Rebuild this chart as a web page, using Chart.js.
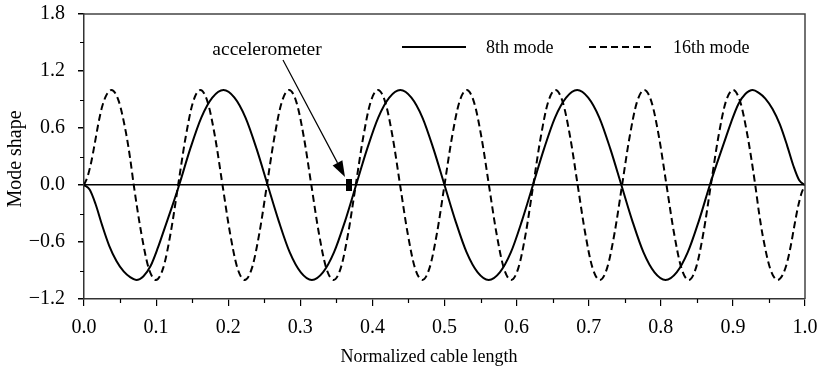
<!DOCTYPE html>
<html>
<head>
<meta charset="utf-8">
<script src="https://cdn.jsdelivr.net/npm/chart.js@4.4.1/dist/chart.umd.min.js"></script>
<style>
    html, body { margin: 0; padding: 0; background: #fff; }
    #wrap { width: 821px; height: 374px; }
</style>
</head>
<body>
<div id="wrap"><canvas id="chart" width="821" height="374"></canvas></div>

<script>
    // 8th mode: normalized position / mode amplitude
    const mode8X = [0, 0.008, 0.016, 0.025, 0.035, 0.045, 0.055, 0.064, 0.0725, 0.0825, 0.0925, 0.1025, 0.1125, 0.1225, 0.132,
        0.1473, 0.1627, 0.178, 0.1934, 0.2087, 0.224, 0.2394, 0.2547,
        0.2701, 0.2854, 0.3007, 0.3161, 0.3314, 0.3467, 0.3621, 0.3774,
        0.3927, 0.4081, 0.4234, 0.4387, 0.4541, 0.4694, 0.4847, 0.5,
        0.5153, 0.5307, 0.546, 0.5613, 0.5767, 0.592, 0.6073, 0.6227,
        0.638, 0.6533, 0.6687, 0.684, 0.6993, 0.7147, 0.73, 0.7453,
        0.7606, 0.776, 0.7913, 0.8066, 0.822, 0.8373, 0.8527, 0.868,
        0.8775, 0.8875, 0.8975, 0.9075, 0.9175, 0.9275, 0.936, 0.945, 0.955, 0.965, 0.975, 0.984, 0.992, 1];
    const mode8Y = [0, -0.05, -0.2, -0.42, -0.64, -0.8, -0.91, -0.97, -1, -0.96, -0.85, -0.66, -0.44, -0.22, 0,
        0.38, 0.71, 0.92, 1, 0.92, 0.71, 0.38, 0,
        -0.38, -0.71, -0.92, -1, -0.92, -0.71, -0.38, 0,
        0.38, 0.71, 0.92, 1, 0.92, 0.71, 0.38, 0,
        -0.38, -0.71, -0.92, -1, -0.92, -0.71, -0.38, 0,
        0.38, 0.71, 0.92, 1, 0.92, 0.71, 0.38, 0,
        -0.38, -0.71, -0.92, -1, -0.92, -0.71, -0.38, 0,
        0.22, 0.44, 0.66, 0.85, 0.96, 1, 0.97, 0.91, 0.8, 0.64, 0.42, 0.2, 0.05, 0];

    // 16th mode
    const mode16X = [0, 0.005, 0.01, 0.015, 0.02, 0.025, 0.03, 0.034, 0.038, 0.0483, 0.0587, 0.064, 0.069,
        0.0793, 0.0895, 0.0998, 0.11, 0.1203, 0.1306,
        0.1409, 0.1511, 0.1614, 0.1716, 0.1819, 0.1921,
        0.2024, 0.2126, 0.2229, 0.2331, 0.2434, 0.2537,
        0.264, 0.2742, 0.2845, 0.2947, 0.305, 0.3153,
        0.3256, 0.3358, 0.3461, 0.3563, 0.3666, 0.3769,
        0.3872, 0.3974, 0.4077, 0.4179, 0.4282, 0.4384,
        0.4487, 0.4589, 0.4692, 0.4794, 0.4897, 0.5,
        0.5103, 0.5205, 0.5308, 0.541, 0.5513, 0.5616,
        0.5719, 0.5821, 0.5924, 0.6026, 0.6129, 0.6231,
        0.6334, 0.6436, 0.6539, 0.6641, 0.6744, 0.6847,
        0.695, 0.7052, 0.7155, 0.7257, 0.736, 0.7463,
        0.7566, 0.7668, 0.7771, 0.7873, 0.7976, 0.8079,
        0.8182, 0.8284, 0.8387, 0.8489, 0.8592, 0.8694,
        0.8797, 0.8899, 0.9002, 0.9104, 0.9207, 0.931,
        0.936, 0.9413, 0.9517, 0.962, 0.966, 0.97, 0.975, 0.98, 0.985, 0.99, 0.995, 1];
    const mode16Y = [0, 0.09, 0.24, 0.44, 0.65, 0.82, 0.93, 0.98, 1, 0.88, 0.53, 0.28, 0,
        -0.5, -0.87, -1, -0.87, -0.5, 0,
        0.5, 0.87, 1, 0.87, 0.5, 0,
        -0.5, -0.87, -1, -0.87, -0.5, 0,
        0.5, 0.87, 1, 0.87, 0.5, 0,
        -0.5, -0.87, -1, -0.87, -0.5, 0,
        0.5, 0.87, 1, 0.87, 0.5, 0,
        -0.5, -0.87, -1, -0.87, -0.5, 0,
        0.5, 0.87, 1, 0.87, 0.5, 0,
        -0.5, -0.87, -1, -0.87, -0.5, 0,
        0.5, 0.87, 1, 0.87, 0.5, 0,
        -0.5, -0.87, -1, -0.87, -0.5, 0,
        0.5, 0.87, 1, 0.87, 0.5, 0,
        -0.5, -0.87, -1, -0.87, -0.5, 0,
        0.5, 0.87, 1, 0.87, 0.5, 0,
        -0.28, -0.53, -0.88, -1, -0.98, -0.93, -0.82, -0.65, -0.44, -0.24, -0.09, 0];

    // accelerometer position on the cable
    const sensorX = [0.3675];
    const sensorY = [0];

    const seriesNames = ['8th mode', '16th mode'];
    const xTickLabels = ['0.0', '0.1', '0.2', '0.3', '0.4', '0.5', '0.6', '0.7', '0.8', '0.9', '1.0'];
    const yTickLabels = ['\u22121.2', '\u22120.6', '0.0', '0.6', '1.2', '1.8'];

    const FONT = "'Liberation Serif', 'Times New Roman', serif";

    function toPoints(xs, ys) {
        return xs.map((x, i) => ({ x: x, y: ys[i] }));
    }

    // 小黑块 = accelerometer
    const sensorImg = document.createElement('canvas');
    sensorImg.width = 6;
    sensorImg.height = 12;
    sensorImg.getContext('2d').fillRect(0, 0, 6, 12);

    // frame, minor ticks, legend, arrow, axis titles
    const decor = {
        id: 'decor',
        afterDraw(chart) {
            const ctx = chart.ctx;
            const a = chart.chartArea;
            const xs = chart.scales.x, ys = chart.scales.y;
            ctx.save();

            // top / right border
            ctx.strokeStyle = '#444';
            ctx.lineWidth = 1.5;
            ctx.beginPath();
            ctx.moveTo(a.left, a.top);
            ctx.lineTo(a.right, a.top);
            ctx.lineTo(a.right, a.bottom);
            ctx.stroke();

            // minor ticks
            ctx.strokeStyle = '#000';
            ctx.lineWidth = 1.2;
            ctx.beginPath();
            for (let v = 0.05; v < 1; v += 0.1) {
                const px = Math.round(xs.getPixelForValue(v)) + 0.5;
                ctx.moveTo(px, a.bottom);
                ctx.lineTo(px, a.bottom + 4);
            }
            for (let v = -0.9; v < 1.8; v += 0.6) {
                const py = Math.round(ys.getPixelForValue(v)) + 0.5;
                ctx.moveTo(a.left - 4, py);
                ctx.lineTo(a.left, py);
            }
            ctx.stroke();

            // legend
            ctx.font = '18px ' + FONT;
            ctx.fillStyle = '#000';
            ctx.textBaseline = 'alphabetic';
            ctx.textAlign = 'left';
            const legend = [
                { x: 402, dash: [] },
                { x: 589, dash: [7, 4] }
            ];
            legend.forEach((l, i) => {
                ctx.setLineDash(l.dash);
                ctx.lineWidth = 1.8;
                ctx.beginPath();
                ctx.moveTo(l.x, 47);
                ctx.lineTo(l.x + 64, 47);
                ctx.stroke();
                ctx.setLineDash([]);
                ctx.fillText(seriesNames[i], l.x + 84, 53);
            });

            // arrow to the accelerometer
            const x0 = xs.getPixelForValue(0.276), y0 = ys.getPixelForValue(1.316);
            const x1 = xs.getPixelForValue(0.362), y1 = ys.getPixelForValue(0.084);
            const ang = Math.atan2(y1 - y0, x1 - x0);
            const headLen = 16, headW = 5.5;
            const bx = x1 - headLen * Math.cos(ang), by = y1 - headLen * Math.sin(ang);
            ctx.lineWidth = 1.2;
            ctx.beginPath();
            ctx.moveTo(x0, y0);
            ctx.lineTo(bx, by);
            ctx.stroke();
            ctx.beginPath();
            ctx.moveTo(x1, y1);
            ctx.lineTo(bx + headW * Math.sin(ang), by - headW * Math.cos(ang));
            ctx.lineTo(bx - headW * Math.sin(ang), by + headW * Math.cos(ang));
            ctx.closePath();
            ctx.fill();

            ctx.textAlign = 'center';
            ctx.font = '19.5px ' + FONT;
            ctx.fillText('accelerometer', x0 - 16, y0 - 5);

            // axis titles
            ctx.font = '18px ' + FONT;
            ctx.fillText('Normalized cable length', 429, 362);
            ctx.font = '20px ' + FONT;
            ctx.translate(21, 159);
            ctx.rotate(-Math.PI / 2);
            ctx.fillText('Mode shape', 0, 0);

            ctx.restore();
        }
    };

    new Chart(document.getElementById('chart'), {
        type: 'line',
        data: {
            datasets: [
                {
                    label: seriesNames[0],
                    data: toPoints(mode8X, mode8Y),
                    borderColor: '#000',
                    borderWidth: 2,
                    pointRadius: 0,
                    cubicInterpolationMode: 'monotone',
                    fill: false
                },
                {
                    label: seriesNames[1],
                    data: toPoints(mode16X, mode16Y),
                    borderColor: '#000',
                    borderWidth: 2,
                    borderDash: [7, 4],
                    pointRadius: 0,
                    cubicInterpolationMode: 'monotone',
                    fill: false
                },
                {
                    label: 'accelerometer',
                    data: toPoints(sensorX, sensorY),
                    showLine: false,
                    pointStyle: sensorImg,
                    pointRadius: 4
                }
            ]
        },
        options: {
            responsive: false,
            animation: false,
            devicePixelRatio: 1,
            layout: { padding: { top: 14, right: 16, left: 0, bottom: 0 } },
            plugins: {
                legend: { display: false },
                tooltip: { enabled: false }
            },
            scales: {
                x: {
                    type: 'linear',
                    min: 0,
                    max: 1,
                    afterFit: s => { s.height = 75; s.paddingLeft = 0; s.paddingRight = 0; },
                    ticks: {
                        stepSize: 0.1,
                        autoSkip: false,
                        maxRotation: 0,
                        padding: 10,
                        color: '#000',
                        font: { family: FONT, size: 20 },
                        callback: (v, i) => xTickLabels[i]
                    },
                    grid: { drawOnChartArea: false, tickLength: 7, color: '#000', lineWidth: 1.2 },
                    border: { color: '#333', width: 1.5 }
                },
                y: {
                    min: -1.2,
                    max: 1.8,
                    afterFit: s => { s.width = 84; s.paddingTop = 0; s.paddingBottom = 0; },
                    ticks: {
                        stepSize: 0.6,
                        padding: 13,
                        color: '#000',
                        font: { family: FONT, size: 20 },
                        callback: (v, i) => yTickLabels[i]
                    },
                    grid: {
                        tickLength: 6,
                        tickColor: '#000',
                        lineWidth: 1.5,
                        color: c => (c.tick && Math.abs(c.tick.value) < 1e-9) ? '#000' : 'rgba(0,0,0,0)'
                    },
                    border: { color: '#333', width: 1.5 }
                }
            }
        },
        plugins: [decor]
    });
</script>
</body>
</html>
